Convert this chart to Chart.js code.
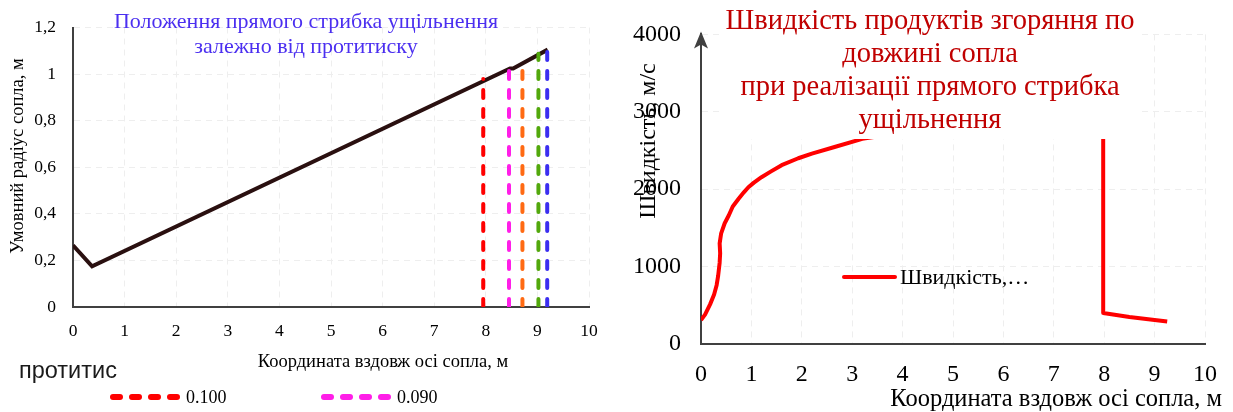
<!DOCTYPE html>
<html>
<head>
<meta charset="utf-8">
<script src="https://cdn.jsdelivr.net/npm/chart.js@4.4.1/dist/chart.umd.min.js"></script>
<style>
  html, body { margin: 0; padding: 0; background: #fff; }
  #wrap { position: relative; width: 1233px; height: 412px; overflow: hidden; }
  #left  { position: absolute; left: 0;     top: 0; width: 620px; height: 412px; }
  #right { position: absolute; left: 620px; top: 0; width: 613px; height: 412px; }
</style>
</head>
<body>
<div id="wrap">
  <canvas id="left" width="620" height="412"></canvas>
  <canvas id="right" width="613" height="412"></canvas>
</div>
<script>
/* ---- дані: радіус сопла ---- */
const radiusX = [0, 0.37, 8.47, 8.53, 9.2];
const radiusY = [0.265, 0.175, 1.024, 1.024, 1.105];

/* положення стрибка для різних протитисків */
const backPressure = ['0.100', '0.090', '0.080', '0.070', '0.060'];
const shockX   = [7.95, 8.45, 8.71, 9.02, 9.19];
const shockTop = [0.979, 1.014, 1.056, 1.087, 1.098];
const shockColors = ['#ff0000', '#ff1ee8', '#ff6a13', '#52a80c', '#3b2ef0'];

const radiusTicks = [0, 0.2, 0.4, 0.6, 0.8, 1, 1.2];

/* ---- дані: швидкість ---- */
const speedX = [0, 0.08, 0.18, 0.26, 0.31, 0.34, 0.37, 0.38, 0.37, 0.4, 0.47, 0.55, 0.63, 0.75, 0.85, 0.94,
                1.05, 1.2, 1.39, 1.6, 1.93, 2.2, 2.65, 3.2, 4.5, 6, 7.98, 7.98, 8.5, 9.25];
const speedY = [310, 380, 512, 640, 760, 880, 1050, 1170, 1300, 1430, 1560, 1660, 1777, 1880, 1960, 2025,
                2085, 2155, 2230, 2310, 2400, 2460, 2545, 2650, 2780, 2880, 2980, 400, 350, 290];

const SERIF = '"Liberation Serif", "Times New Roman", serif';
const SANS  = '"Liberation Sans", Arial, sans-serif';
const AXIS_COLOR = '#404040';
const GRID_COLOR = '#eeeeee';

Chart.defaults.font.family = SERIF;
Chart.defaults.color = '#000';

function zip(xs, ys) { return xs.map((x, i) => ({ x, y: ys[i] })); }

function dashLine(ctx, x1, x2, y, color, w, dash) {
  ctx.save();
  ctx.strokeStyle = color;
  ctx.lineWidth = w;
  ctx.lineCap = 'round';
  ctx.setLineDash(dash);
  ctx.beginPath();
  ctx.moveTo(x1, y);
  ctx.lineTo(x2, y);
  ctx.stroke();
  ctx.restore();
}

/* ════════ ліва діаграма ════════ */
const leftDatasets = [{
  label: 'Радіус',
  data: zip(radiusX, radiusY),
  borderColor: '#2a1010',
  borderWidth: 4,
  pointRadius: 0,
  showLine: true,
  order: 2
}].concat(shockX.map((x, i) => ({
  label: backPressure[i],
  data: [{ x, y: 0 }, { x, y: shockTop[i] }],
  borderColor: shockColors[i],
  borderWidth: 4,
  borderDash: [8, 11],
  borderCapStyle: 'round',
  pointRadius: 0,
  showLine: true,
  order: 1
})));

const leftDecor = {
  id: 'leftDecor',
  afterDraw(chart) {
    const ctx = chart.ctx;
    ctx.save();
    // заголовок
    ctx.fillStyle = '#4b2ff0';
    ctx.font = '22px ' + SERIF;
    ctx.textAlign = 'center';
    ctx.textBaseline = 'middle';
    ctx.fillText('Положення прямого стрибка ущільнення', 306, 22);
    ctx.fillText('залежно від протитиску', 306, 47);

    // підписи осей
    ctx.fillStyle = '#000';
    ctx.font = '18.5px ' + SERIF;
    ctx.fillText('Координата вздовж осі сопла, м', 383, 362);
    ctx.save();
    ctx.translate(18, 156);
    ctx.rotate(-Math.PI / 2);
    ctx.fillText('Умовний радіус сопла, м', 0, 0);
    ctx.restore();

    // легенда
    ctx.textAlign = 'left';
    ctx.font = '23.5px ' + SANS;
    ctx.fillStyle = '#1a1a1a';
    ctx.fillText('протитис', 19, 372);
    const items = [{ x: 110, i: 0 }, { x: 321, i: 1 }];
    ctx.font = '18px ' + SERIF;
    ctx.fillStyle = '#000';
    items.forEach(it => {
      const ds = chart.data.datasets[it.i + 1];
      dashLine(ctx, it.x + 3, it.x + 68, 397, ds.borderColor, 6, [7, 12]);
      ctx.fillText(ds.label, it.x + 76, 398);
    });
    ctx.restore();
  }
};

new Chart(document.getElementById('left'), {
  type: 'scatter',
  data: { datasets: leftDatasets },
  options: {
    responsive: false,
    animation: false,
    layout: { padding: { top: 23, right: 31, left: 0, bottom: 0 } },
    plugins: { legend: { display: false }, tooltip: { enabled: false } },
    scales: {
      x: {
        type: 'linear', min: 0, max: 10,
        ticks: { stepSize: 1, font: { size: 17.5 }, padding: 14, color: '#000' },
        grid: { color: GRID_COLOR, drawTicks: false },
        border: { color: AXIS_COLOR, width: 2, dash: [6, 5] },
        afterFit: s => { s.height = 105; }
      },
      y: {
        min: 0, max: 1.2,
        ticks: {
          stepSize: 0.1,
          font: { size: 17.5 },
          padding: 17,
          color: '#000',
          callback: v => {
            const r = Math.round(v * 10) / 10;
            return radiusTicks.includes(r) ? String(r).replace('.', ',') : '';
          }
        },
        grid: { color: GRID_COLOR, drawTicks: false },
        border: { color: AXIS_COLOR, width: 2, dash: [6, 5] },
        afterFit: s => { s.width = 73; }
      }
    }
  },
  plugins: [leftDecor]
});

/* ════════ права діаграма ════════ */
const rightDecor = {
  id: 'rightDecor',
  afterDatasetsDraw(chart) {
    const ctx = chart.ctx;
    ctx.save();
    // заголовок на білому тлі
    ctx.fillStyle = '#fff';
    ctx.fillRect(102, 0, 420, 139);
    ctx.fillStyle = '#c00000';
    ctx.font = '28.5px ' + SERIF;
    ctx.textAlign = 'center';
    ctx.textBaseline = 'middle';
    const lines = ['Швидкість продуктів згоряння по', 'довжині сопла',
                   'при реалізації прямого стрибка', 'ущільнення'];
    lines.forEach((t, i) => ctx.fillText(t, 310, 22 + i * 32.7));
    ctx.restore();
  },
  afterDraw(chart) {
    const ctx = chart.ctx;
    const a = chart.chartArea;
    ctx.save();
    // стрілка осі Y
    ctx.fillStyle = AXIS_COLOR;
    ctx.beginPath();
    ctx.moveTo(a.left, a.top - 3);
    ctx.lineTo(a.left - 7, a.top + 14);
    ctx.lineTo(a.left, a.top + 10);
    ctx.lineTo(a.left + 7, a.top + 14);
    ctx.closePath();
    ctx.fill();

    ctx.fillStyle = '#000';
    ctx.textBaseline = 'middle';
    ctx.font = '24.5px ' + SERIF;
    ctx.textAlign = 'right';
    ctx.fillText('Координата вздовж осі сопла, м', 602, 400);
    ctx.textAlign = 'center';
    ctx.font = '24px ' + SERIF;
    ctx.save();
    ctx.translate(29, 141);
    ctx.rotate(-Math.PI / 2);
    ctx.fillText('Швидкість, м/с', 0, 0);
    ctx.restore();

    // легенда
    const ds = chart.data.datasets[0];
    ctx.strokeStyle = ds.borderColor;
    ctx.lineWidth = 4;
    ctx.lineCap = 'round';
    ctx.beginPath();
    ctx.moveTo(224, 277);
    ctx.lineTo(275, 277);
    ctx.stroke();
    ctx.textAlign = 'left';
    ctx.font = '22px ' + SERIF;
    ctx.fillText(ds.label, 280, 278);
    ctx.restore();
  }
};

new Chart(document.getElementById('right'), {
  type: 'scatter',
  data: {
    datasets: [{
      label: 'Швидкість,…',
      data: zip(speedX, speedY),
      borderColor: '#ff0000',
      borderWidth: 4,
      borderJoinStyle: 'round',
      pointRadius: 0,
      showLine: true
    }]
  },
  options: {
    responsive: false,
    animation: false,
    layout: { padding: { top: 23, right: 21, left: 0, bottom: 0 } },
    plugins: { legend: { display: false }, tooltip: { enabled: false } },
    scales: {
      x: {
        type: 'linear', min: 0, max: 10,
        ticks: { stepSize: 1, font: { size: 24 }, padding: 16, color: '#000' },
        grid: { color: GRID_COLOR, drawTicks: false },
        border: { color: AXIS_COLOR, width: 2, dash: [6, 5] },
        afterFit: s => { s.height = 68; }
      },
      y: {
        min: 0, max: 4000,
        ticks: { stepSize: 1000, font: { size: 24 }, padding: 20, color: '#000', callback: v => String(v) },
        grid: { color: GRID_COLOR, drawTicks: false },
        border: { color: AXIS_COLOR, width: 2, dash: [6, 5] },
        afterFit: s => { s.width = 81; }
      }
    }
  },
  plugins: [rightDecor]
});
</script>
</body>
</html>
